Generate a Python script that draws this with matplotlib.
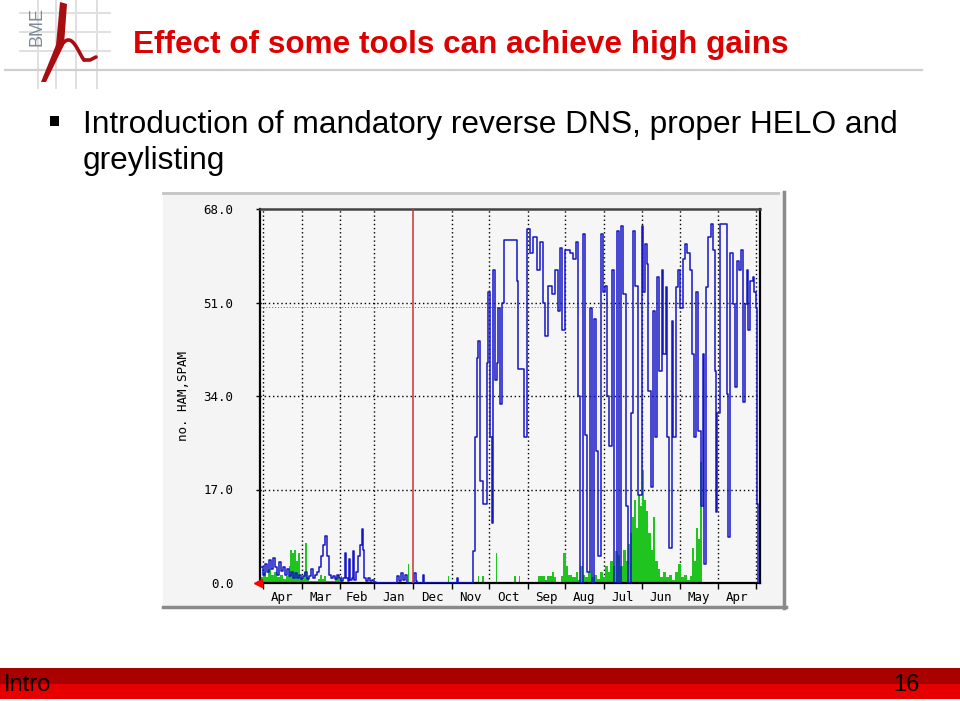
import matplotlib
matplotlib.use("Agg")
import matplotlib.pyplot as plt
from matplotlib.patches import Rectangle, Polygon
import numpy as np

# x = days back from the left edge of the graph, y = messages
month_edges = [2.4, 33.6, 64.0, 91.2, 122.4, 153.6, 183.2, 214.4, 244.0,
               275.2, 305.6, 336.0, 366.4, 396.8]
month_names = ["Apr", "Mar", "Feb", "Jan", "Dec", "Nov", "Oct", "Sep", "Aug",
               "Jul", "Jun", "May", "Apr"]
year_edge = 122.4
y_ticks = [0.0, 17.0, 34.0, 51.0, 68.0]
max_line = 50.1

blue_day = [0.8, 2.4, 4.0, 5.6, 7.2, 8.8, 10.4, 12.0, 13.6, 15.2, 16.8, 18.4,
            20.0, 21.6, 23.2, 24.8, 26.4, 28.0, 29.6, 31.2, 32.8, 34.4, 36.0,
            37.6, 39.2, 40.8, 42.4, 44.0, 45.6, 47.2, 48.8, 50.4, 52.0, 53.6,
            55.2, 56.8, 58.4, 60.0, 61.6, 63.2, 64.8, 66.4, 68.0, 68.8, 70.4,
            71.2, 72.0, 73.6, 74.4, 75.2, 76.8, 78.4, 80.0, 81.6, 82.4, 83.2,
            84.8, 86.4, 88.0, 89.6, 91.2, 92.8, 109.6, 111.2, 112.8, 114.4,
            116.0, 117.6, 123.2, 124.8, 125.6, 130.4, 131.2, 157.6, 158.4,
            170.4, 172.0, 173.6, 174.4, 176.0, 178.4, 181.6, 182.4, 184.0,
            185.6, 186.4, 188.0, 189.6, 190.4, 192.0, 193.6, 195.2, 205.6,
            206.4, 208.8, 211.2, 213.6, 216.0, 218.4, 221.6, 224.0, 226.4,
            228.0, 230.4, 233.6, 236.0, 238.4, 240.0, 241.6, 244.0, 248.0,
            250.4, 252.8, 254.4, 256.0, 258.4, 260.0, 261.6, 264.0, 265.6,
            267.2, 268.8, 270.4, 272.8, 274.4, 276.0, 277.6, 279.2, 281.6,
            283.2, 285.6, 287.2, 288.8, 290.4, 292.8, 294.4, 296.8, 298.4,
            300.0, 302.4, 305.6, 306.4, 308.0, 309.6, 310.4, 312.8, 314.4,
            316.0, 317.6, 319.2, 321.6, 322.4, 324.8, 325.6, 327.2, 329.6,
            330.4, 332.8, 334.4, 336.0, 338.4, 340.0, 341.6, 344.0, 345.6,
            347.2, 348.8, 350.4, 352.8, 354.4, 355.2, 356.8, 358.4, 360.8,
            362.4, 364.0, 364.8, 365.6, 368.0, 371.2, 373.6, 374.4, 376.0,
            378.4, 380.0, 381.6, 383.2, 384.8, 386.4, 388.0, 389.6, 390.4,
            392.0, 394.4, 395.2, 396.8, 397.6, 398.4]
blue_val = [3.0, 1.5, 3.5, 2.0, 4.2, 2.5, 4.5, 3.0, 1.5, 3.8, 2.2, 3.0,
            1.5, 2.5, 1.2, 2.0, 1.0, 1.8, 1.0, 1.5, 0.8, 1.2, 2.0,
            0.8, 1.2, 2.5, 1.0, 1.5, 2.0, 3.0, 5.0, 7.0, 8.6, 5.0,
            1.5, 1.0, 1.2, 0.8, 1.5, 1.0, 0.3, 1.0, 5.5, 1.0, 0.3,
            4.3, 0.5, 1.0, 5.8, 0.5, 2.0, 5.0, 7.0, 9.8, 6.0, 1.0,
            0.4, 1.0, 0.3, 0.6, 0.2, 0.0, 1.2, 0.3, 1.8, 0.5,
            1.5, 0.0, 1.8, 0.3, 0.0, 1.5, 0.0, 1.0, 0.0,
            5.8, 26.5, 41.0, 44.0, 18.6, 14.3, 40.0, 53.0, 26.5,
            11.0, 57.0, 37.0, 40.0, 50.0, 32.5, 51.0, 62.3, 55.0,
            39.0, 39.0, 26.5, 64.4, 60.0, 63.0, 57.0, 62.0, 51.0,
            45.0, 54.0, 52.5, 57.0, 49.5, 61.0, 46.0, 60.5, 60.0,
            59.0, 62.0, 34.0, 0.0, 63.5, 27.0, 2.0, 50.0, 0.0,
            48.0, 24.0, 5.0, 63.5, 53.0, 54.0, 34.0, 25.0, 57.0,
            0.0, 64.0, 0.0, 65.0, 52.5, 14.0, 0.0, 31.0, 64.0,
            54.0, 16.0, 65.0, 53.0, 61.7, 58.0, 35.0, 17.4, 49.5,
            26.5, 55.6, 38.6, 57.0, 41.6, 53.8, 26.5, 6.4, 47.7,
            26.5, 53.8, 57.0, 50.0, 59.0, 61.7, 60.0, 57.0, 41.6,
            26.5, 53.0, 27.7, 14.0, 41.6, 3.4, 53.8, 62.9, 65.3,
            60.5, 38.6, 13.0, 31.0, 65.3, 65.3, 34.4, 8.3, 60.0,
            50.7, 35.6, 58.6, 57.0, 60.5, 33.0, 50.7, 57.0, 46.0,
            55.0, 55.6, 53.0, 50.0, 14.3, 0.0]

green_day = [0.8, 2.4, 4.8, 6.4, 8.8, 11.2, 13.6, 16.0, 18.4, 20.8, 23.2, 24.0,
             25.6, 27.2, 28.8, 30.4, 32.0, 33.6, 35.2, 36.0, 37.6, 39.2, 46.4,
             48.0, 49.6, 51.2, 52.8, 60.0, 61.6, 63.2, 64.8, 65.6, 118.4,
             119.2, 150.4, 151.2, 174.4, 175.2, 177.6, 179.2, 188.8, 189.6,
             203.2, 204.8, 207.2, 208.0, 222.4, 228.0, 229.6, 233.6, 235.2,
             236.8, 240.8, 242.4, 244.8, 246.4, 249.6, 252.8, 254.4, 256.0,
             258.4, 260.0, 262.4, 264.8, 267.2, 269.6, 272.0, 274.4, 276.0,
             278.4, 280.0, 282.4, 284.0, 286.4, 288.0, 290.4, 292.8, 294.4,
             296.0, 297.6, 299.2, 300.8, 302.4, 304.0, 305.6, 307.2, 308.8,
             310.4, 312.8, 314.4, 316.0, 318.4, 320.0, 322.4, 324.8, 327.2,
             329.6, 332.0, 334.4, 336.8, 339.2, 341.6, 344.0, 345.6, 347.2,
             348.8, 350.4, 352.0, 353.6]
green_val = [1.0, 2.0, 1.0, 2.5, 1.5, 2.0, 1.0, 1.5, 0.8, 1.2, 3.0, 6.0,
             5.5, 6.0, 4.0, 5.5, 1.0, 0.5, 2.0, 7.3, 1.0, 0.3, 0.8,
             1.5, 0.8, 1.2, 0.3, 1.0, 1.5, 0.8, 1.2, 0.0, 3.4,
             0.0, 1.2, 0.0, 1.2, 0.0, 1.2, 0.0, 5.5, 0.0,
             1.3, 0.0, 1.3, 0.0, 1.2, 0.6, 1.3, 2.0, 1.0,
             0.0, 1.2, 5.5, 3.0, 1.5, 1.0, 2.0, 0.5, 3.0,
             1.5, 1.0, 2.0, 1.0, 1.5, 0.8, 2.0, 1.0, 3.0,
             2.0, 4.0, 3.0, 5.8, 5.0, 3.0, 6.0, 4.0, 7.0,
             9.0, 12.0, 15.0, 10.0, 16.0, 14.0, 20.5, 15.0, 13.0,
             9.0, 6.0, 12.0, 4.0, 2.5, 1.0, 2.0, 1.0, 1.5,
             0.5, 2.0, 3.4, 1.0, 1.5, 0.5, 1.2, 6.4, 4.0,
             10.0, 8.0, 22.0, 0.0]

title = "Effect of some tools can achieve high gains"
bullet_lines = ["Introduction of mandatory reverse DNS, proper HELO and",
                "greylisting"]
footer_left = "Intro"
footer_right = "16"

W, H = 960, 701
fig = plt.figure(figsize=(W / 100, H / 100), dpi=100)
fig.patch.set_facecolor("white")

# overlay in pixel coords for the slide decoration
deco = fig.add_axes([0, 0, 1, 1])
deco.set_xlim(0, W)
deco.set_ylim(H, 0)
deco.axis("off")

# logo grid
for gx in [38, 56, 76, 97]:
    deco.plot([gx, gx], [0, 88], color="#e0e0e0", lw=1.4, zorder=1)
for gy in [13, 32, 51]:
    deco.plot([20, 110], [gy, gy], color="#e0e0e0", lw=1.4, zorder=1)
deco.plot([5, 922], [70, 70], color="#cfcfcf", lw=1.6, zorder=1)
deco.text(37, 27, "BME", rotation=90, ha="center", va="center",
          fontsize=13, color="#7d8a95", family="Liberation Sans", zorder=2)
# red "h"
deco.add_patch(Polygon([[41, 82], [56, 45], [60, 2], [67, 4], [64, 45], [46, 82]],
                       closed=True, facecolor="#a80d12", edgecolor="none", zorder=3))
t = np.linspace(0, 1, 50)
hx = 54 + 30 * t
hy = 56 - 18 * np.sin(np.pi * t) ** 1.2 + 4 * t
deco.plot(hx, hy, color="#a80d12", lw=2.6, solid_capstyle="round", zorder=3)
deco.plot([84, 90, 96], [60, 60, 57], color="#a80d12", lw=2.6,
          solid_capstyle="round", zorder=3)

deco.text(133, 53, title, fontsize=22.7, fontweight="bold", color="#dd0000",
          family="Liberation Sans", va="baseline", ha="left")
deco.add_patch(Rectangle((50, 116), 9, 10, facecolor="black"))
deco.text(83, 133, bullet_lines[0], fontsize=22.8, color="black",
          family="Liberation Sans", va="baseline", ha="left")
deco.text(83, 169, bullet_lines[1], fontsize=22.8, color="black",
          family="Liberation Sans", va="baseline", ha="left")

# graph image background
deco.add_patch(Rectangle((163, 192), 620, 414, facecolor="#f4f4f4",
                         edgecolor="none", zorder=0))
deco.plot([163, 778], [193, 193], color="#c4c4c4", lw=2, zorder=1)
deco.plot([783.5, 783.5], [192, 608], color="#8a8a8a", lw=2.5, zorder=1)
deco.plot([163, 786], [607, 607], color="#8a8a8a", lw=2.5, zorder=1)

# footer bar
deco.add_patch(Rectangle((0, 668), W, 16, facecolor="#a90000", edgecolor="none"))
deco.add_patch(Rectangle((0, 684), W, 15, facecolor="#e60000", edgecolor="none"))
deco.text(4, 685, footer_left, fontsize=17, color="black",
          family="Liberation Sans", va="center", ha="left")
deco.text(920, 685, footer_right, fontsize=17, color="black",
          family="Liberation Sans", va="center", ha="right")

# the MRTG graph
ax = fig.add_axes([260 / W, 1 - 583 / H, 500 / W, 374 / H])
ax.set_facecolor("#f6f6f6")
ax.set_xlim(0, 400)
ax.set_ylim(0, 68)

for d in month_edges:
    if d == year_edge:
        continue
    ax.axvline(d, color="black", lw=1, ls=(0, (1, 2)), zorder=1)
for v in y_ticks[1:-1]:
    ax.axhline(v, color="black", lw=1, ls=(0, (1, 2)), zorder=1)
ax.axhline(max_line, color="#cc3333", lw=0.7, ls=(0, (1, 2)), zorder=1)

ax.fill_between(green_day, green_val, step="post", color="#1fc41f",
                lw=0, zorder=2)
ax.step(blue_day, blue_val, where="post", color="#1515c8", lw=1.1, zorder=3)
ax.axvline(year_edge, color="#cc3333", lw=1.1, zorder=4)

for s in ["left", "bottom", "right"]:
    ax.spines[s].set_color("black")
    ax.spines[s].set_linewidth(1.6)
ax.spines["top"].set_color("#444444")
ax.spines["top"].set_linewidth(1.8)

ax.set_yticks(y_ticks)
ax.set_yticklabels(["%.1f" % v for v in y_ticks], family="DejaVu Sans Mono",
                   fontsize=9)
ax.tick_params(axis="y", length=3, width=1, pad=16, direction="out")
ax.set_xticks(month_edges)
ax.set_xticklabels([])
ax.tick_params(axis="x", length=4, width=1, direction="out")
mids = [(month_edges[i] + month_edges[i + 1]) / 2 for i in range(len(month_names))]
for m, name in zip(mids, month_names):
    ax.text(m, -1.4, name, ha="center", va="top", fontsize=9,
            family="DejaVu Sans Mono", transform=ax.transData, clip_on=False)
ax.set_ylabel("no. HAM,SPAM", family="DejaVu Sans Mono", fontsize=9,
              labelpad=10)
ax.plot([-1.5], [0], marker="<", color="red", markersize=6, clip_on=False,
        zorder=5)

fig.savefig("out.png", dpi=100, facecolor="white")
